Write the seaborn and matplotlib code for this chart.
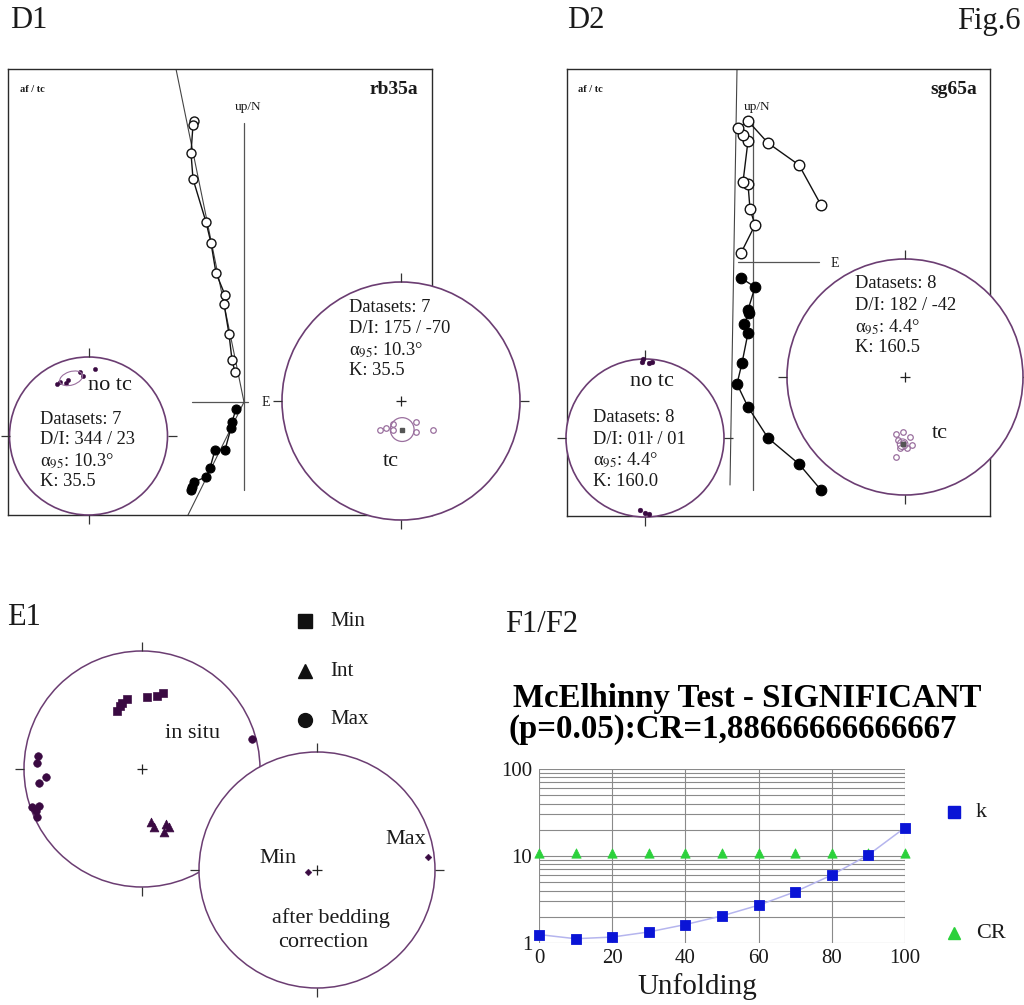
import numpy as np
import pandas as pd
import matplotlib
matplotlib.use("Agg")
import matplotlib.pyplot as plt
from matplotlib.patches import Circle, Ellipse
import seaborn as sns

sns.set_theme(style="white")
plt.rcParams['font.family'] = ['Liberation Serif', 'DejaVu Serif']
plt.rcParams['mathtext.fontset'] = 'stix'

# ---------------- data ----------------
# D1 (rb35a) Zijderveld diagram: horizontal (open) and vertical (filled) projections
D1_OPEN_E = [-50, -51, -53, -51, -38, -33, -28, -19, -20, -15, -12, -9]
D1_OPEN_N = [281, 277, 249, 223, 180, 159, 129, 107, 98, 68, 42, 30]
D1_FILL_E = [-8, -12, -13, -19, -29, -34, -38, -50, -52, -53]
D1_FILL_UP = [-7, -20, -26, -48, -48, -66, -75, -80, -85, -88]
D1_FIT_E = [[-68, 0], [0, -56]]
D1_FIT_N = [[333, 0], [0, -113]]

# D2 (sg65a) Zijderveld diagram
D2_OPEN_E = [-12, 2, -3, -5, -10, -5, -10, -15, -5, 15, 46, 68]
D2_OPEN_N = [9, 37, 53, 78, 80, 121, 127, 134, 141, 119, 97, 57]
D2_FILL_E = [-12, 2, -5, -4, -9, -5, -11, -16, -5, 15, 46, 68]
D2_FILL_UP = [-16, -25, -48, -51, -62, -71, -101, -122, -145, -176, -202, -228]
D2_FIT_E = [[-16, -23]]
D2_FIT_N = [[193, -223]]

# stereonet site directions (projected, unit circle)
D1_NOTC_X = [-0.40, -0.36, -0.28, -0.26, -0.11, -0.07, 0.08]
D1_NOTC_Y = [0.66, 0.68, 0.67, 0.71, 0.81, 0.76, 0.85]
D1_TC_X = [-0.18, -0.13, -0.07, -0.07, 0.13, 0.13, 0.27]
D1_TC_Y = [-0.24, -0.23, -0.19, -0.24, -0.18, -0.26, -0.24]
D2_NOTC_X = [-0.04, -0.03, 0.05, 0.09, -0.06, 0.00, 0.05]
D2_NOTC_Y = [0.96, 1.00, 0.95, 0.96, -0.91, -0.95, -0.96]
D2_TC_X = [-0.08, -0.02, 0.04, -0.06, -0.02, 0.06, -0.04, 0.02, -0.08]
D2_TC_Y = [-0.48, -0.47, -0.51, -0.53, -0.56, -0.58, -0.60, -0.60, -0.68]

D1_NOTC_TEXT = ["Datasets: 7", "D/I: 344 / 23", "α$_{95}$: 10.3°", "K: 35.5"]
D1_TC_TEXT = ["Datasets: 7", "D/I: 175 / -70", "α$_{95}$: 10.3°", "K: 35.5"]
D2_NOTC_TEXT = ["Datasets: 8", "D/I: 01ŀ / 01", "α$_{95}$: 4.4°", "K: 160.0"]
D2_TC_TEXT = ["Datasets: 8", "D/I: 182 / -42", "α$_{95}$: 4.4°", "K: 160.5"]

# E1 AMS principal axes
MIN_X = [-0.21, -0.19, -0.17, -0.13, 0.04, 0.13, 0.18]
MIN_Y = [0.49, 0.53, 0.56, 0.59, 0.61, 0.62, 0.64]
INT_X = [0.08, 0.10, 0.20, 0.23, 0.19]
INT_Y = [-0.45, -0.49, -0.47, -0.49, -0.53]
MAX_X = [-0.88, -0.89, -0.81, -0.87, -0.93, -0.87, -0.90, -0.89, 0.93]
MAX_Y = [0.11, 0.05, -0.07, -0.12, -0.32, -0.31, -0.36, -0.41, 0.25]
BC_LABELS = ["Min", "Max"]
BC_X = [-0.08, 0.94]
BC_Y = [-0.02, 0.11]

# F1/F2 McElhinny fold test
UNFOLDING = [0, 10, 20, 30, 40, 50, 60, 70, 80, 90, 100]
K_VALUES = [1.25, 1.12, 1.17, 1.34, 1.63, 2.05, 2.72, 3.88, 6.04, 10.3, 21.2]
CR_VALUES = [10.9] * 11

# ---------------- styling ----------------
W, H = 1024, 1005
PURPLE = '#3a0a42'
RING = '#6b3d72'
OPEN_PURPLE = '#9a6f9e'
TXT = '#1a1a1a'
BLUE = '#0a14d6'
GREEN = '#2bd13b'

fig = plt.figure(figsize=(W / 100, H / 100), dpi=100)


def px_axes(x0, y0, x1, y1, z=1):
    ax = fig.add_axes([x0 / W, 1 - y1 / H, (x1 - x0) / W, (y1 - y0) / H], zorder=z)
    ax.set_facecolor('none')
    return ax


def ptext(x, y, s, **kw):
    kw.setdefault('va', 'center')
    kw.setdefault('color', TXT)
    fig.text(x / W, 1 - y / H, s, **kw)


def zijderveld(box, origin, oe, on, fe, fu, fit_e, fit_n, vert, horiz, ms):
    x0, y0, x1, y1 = box
    ox, oy = origin
    ax = px_axes(x0, y0, x1, y1, z=1)
    ax.set_xlim(x0 - ox, x1 - ox)
    ax.set_ylim(oy - y1, oy - y0)
    ax.set_xticks([])
    ax.set_yticks([])
    for sp in ax.spines.values():
        sp.set_color('#2a2a2a')
        sp.set_linewidth(1.0)
    ax.plot([0, 0], vert, color='#555555', lw=0.9)
    ax.plot(horiz, [0, 0], color='#555555', lw=0.9)
    for fx, fy in zip(fit_e, fit_n):
        ax.plot(fx, fy, color='#444444', lw=0.8)
    sns.lineplot(x=oe, y=on, sort=False, estimator=None, color='#111111', lw=1.0, ax=ax)
    sns.lineplot(x=fe, y=fu, sort=False, estimator=None, color='#111111', lw=1.0, ax=ax)
    sns.scatterplot(x=oe, y=on, color='white', edgecolor='#111111', linewidth=1.0,
                    s=ms, ax=ax, zorder=4, legend=False)
    sns.scatterplot(x=fe, y=fu, color='#000000', edgecolor='#000000', linewidth=0.8,
                    s=ms, ax=ax, zorder=4, legend=False)
    return ax


def stereonet(cx, cy, r, z=3, lw=1.2, centre=True):
    pad = 1.14
    ax = px_axes(cx - r * pad, cy - r * pad, cx + r * pad, cy + r * pad, z)
    ax.set_xlim(-pad, pad)
    ax.set_ylim(-pad, pad)
    ax.axis('off')
    ax.add_patch(Circle((0, 0), 1, facecolor='white', edgecolor=RING, lw=lw, zorder=1))
    t = 1 + 9 / r
    for dx, dy in [(0, 1), (1, 0), (0, -1), (-1, 0)]:
        ax.plot([dx, dx * t], [dy, dy * t], color='#333333', lw=0.9, zorder=2,
                solid_capstyle='butt')
    if centre:
        ax.plot([0], [0], marker='+', color='#222222', ms=7, mew=0.9, zorder=2)
    return ax


# ---------------- D1 ----------------
ptext(10, 21, "D1", fontsize=22, ha='left')
zijderveld((8, 69, 432, 515), (244, 402), D1_OPEN_E, D1_OPEN_N, D1_FILL_E, D1_FILL_UP,
           D1_FIT_E, D1_FIT_N, [279, -88], [-52, 4], ms=42)
ptext(20, 90, "af / tc", fontsize=7.5, ha='left', weight='bold')
ptext(418, 89, "rb35a", fontsize=14, ha='right', weight='bold')
ptext(248, 107, "up/N", fontsize=9.5, ha='center')
ptext(262, 403, "E", fontsize=10, ha='left')

ax = stereonet(88.5, 436, 79, centre=False)
sns.scatterplot(x=D1_NOTC_X, y=D1_NOTC_Y, color=PURPLE, edgecolor=PURPLE, s=10,
                ax=ax, zorder=3, legend=False)
ax.add_patch(Ellipse((-0.22, 0.73), 0.30, 0.17, angle=18, fill=False,
                     edgecolor=OPEN_PURPLE, lw=0.8, zorder=3))
ptext(88, 386, "no tc", fontsize=16, ha='left')
for i, s in enumerate(D1_NOTC_TEXT):
    ptext(40, 419 + 21 * i, s, fontsize=13.3, ha='left')

ax = stereonet(401, 401, 119)
sns.scatterplot(x=D1_TC_X, y=D1_TC_Y, color='white', edgecolor=OPEN_PURPLE,
                linewidth=0.9, s=16, ax=ax, zorder=3, legend=False)
ax.add_patch(Circle((0.01, -0.24), 0.10, fill=False, edgecolor=OPEN_PURPLE, lw=0.9, zorder=3))
ax.plot([0.01], [-0.24], marker='s', color='#555555', ms=2.5, zorder=4)
ptext(383, 462, "tc", fontsize=16, ha='left')
for i, s in enumerate(D1_TC_TEXT):
    ptext(349, 307 + 21.3 * i, s, fontsize=13.3, ha='left')

# ---------------- D2 ----------------
ptext(567, 21, "D2", fontsize=22, ha='left')
ptext(1021, 21, "Fig.6", fontsize=22, ha='right')
zijderveld((567, 69, 990, 516), (753, 262), D2_OPEN_E, D2_OPEN_N, D2_FILL_E, D2_FILL_UP,
           D2_FIT_E, D2_FIT_N, [140, -228], [-15, 66], ms=58)
ptext(578, 90, "af / tc", fontsize=7.5, ha='left', weight='bold')
ptext(977, 89, "sg65a", fontsize=14, ha='right', weight='bold')
ptext(757, 107, "up/N", fontsize=9.5, ha='center')
ptext(831, 263, "E", fontsize=10, ha='left')

ax = stereonet(645, 438, 79, centre=False)
sns.scatterplot(x=D2_NOTC_X, y=D2_NOTC_Y, color=PURPLE, edgecolor=PURPLE, s=12,
                ax=ax, zorder=3, legend=False)
ptext(630, 381, "no tc", fontsize=16, ha='left')
for i, s in enumerate(D2_NOTC_TEXT):
    ptext(593, 418 + 21 * i, s, fontsize=13.3, ha='left')

ax = stereonet(905, 377, 118)
sns.scatterplot(x=D2_TC_X, y=D2_TC_Y, color='white', edgecolor=OPEN_PURPLE,
                linewidth=0.9, s=16, ax=ax, zorder=3, legend=False)
ax.add_patch(Circle((-0.02, -0.57), 0.045, fill=False, edgecolor=OPEN_PURPLE, lw=0.8, zorder=3))
ax.plot([-0.02], [-0.57], marker='s', color='#555555', ms=2.5, zorder=4)
ptext(932, 434, "tc", fontsize=16, ha='left')
for i, s in enumerate(D2_TC_TEXT):
    ptext(855, 284 + 21.3 * i, s, fontsize=13.3, ha='left')

# ---------------- E1 ----------------
ptext(7, 617, "E1", fontsize=22, ha='left')
ax = stereonet(142, 769, 118, z=2, lw=1.1)
sns.scatterplot(x=MIN_X, y=MIN_Y, marker='s', color=PURPLE, edgecolor=PURPLE, s=34,
                ax=ax, zorder=3, legend=False)
sns.scatterplot(x=INT_X, y=INT_Y, marker='^', color=PURPLE, edgecolor=PURPLE, s=40,
                ax=ax, zorder=3, legend=False)
sns.scatterplot(x=MAX_X, y=MAX_Y, marker='o', color=PURPLE, edgecolor=PURPLE, s=30,
                ax=ax, zorder=3, legend=False)
ptext(165, 733, "in situ", fontsize=16, ha='left')

ax = stereonet(317, 870, 118, z=3, lw=1.1)
sns.scatterplot(x=BC_X, y=BC_Y, marker='D', color=PURPLE, edgecolor=PURPLE, s=12,
                ax=ax, zorder=3, legend=False)
ptext(278, 858, BC_LABELS[0], fontsize=16, ha='center')
ptext(406, 840, BC_LABELS[1], fontsize=16, ha='center')
ptext(331, 918, "after bedding", fontsize=16, ha='center')
ptext(323, 942, "correction", fontsize=16, ha='center')

# legend for principal axes
leg = px_axes(0, 0, W, H, z=5)
leg.set_xlim(0, W)
leg.set_ylim(H, 0)
leg.axis('off')
for mk, y, lab in [('s', 621, "Min"), ('^', 671, "Int"), ('o', 720, "Max")]:
    leg.plot([305], [y], marker=mk, color='#111111', ms=10, ls='none')
    ptext(330, y, lab, fontsize=15, ha='left')

# ---------------- F1/F2 ----------------
ptext(505, 625, "F1/F2", fontsize=22, ha='left')
ptext(513, 698, "McElhinny Test - SIGNIFICANT", fontsize=23.7, ha='left', weight='bold',
      color='#000000')
ptext(509, 729, "(p=0.05):CR=1,88666666666667", fontsize=23.7, ha='left', weight='bold',
      color='#000000')

ax = px_axes(539, 769, 905, 943, z=1)
ax.set_yscale('log')
ax.set_xlim(0, 100)
ax.set_ylim(1, 100)
ax.set_xticks([0, 20, 40, 60, 80, 100])
ax.set_yticks([1, 10, 100])
ax.set_yticklabels(["1", "10", "100"])
minor = [v * d for d in (1, 10) for v in range(2, 10)]
ax.set_yticks(minor, minor=True)
ax.set_yticklabels([], minor=True)
ax.grid(True, which='both', axis='y', color='#8a8a8a', lw=0.8)
ax.grid(True, which='major', axis='x', color='#8a8a8a', lw=0.8)
for sp in ax.spines.values():
    sp.set_visible(False)
ax.tick_params(axis='both', which='both', length=0, labelsize=15, colors=TXT)
ax.tick_params(axis='y', pad=5)
ax.tick_params(axis='x', pad=4)
sns.lineplot(x=UNFOLDING, y=K_VALUES, color='#b5b5ee', lw=1.1, ax=ax)
sns.scatterplot(x=UNFOLDING, y=CR_VALUES, marker='^', color=GREEN, edgecolor=GREEN,
                s=45, ax=ax, zorder=4, legend=False)
sns.scatterplot(x=UNFOLDING, y=K_VALUES, marker='s', color=BLUE, edgecolor=BLUE,
                s=55, ax=ax, zorder=5, legend=False)
for c in ax.collections:
    c.set_clip_on(False)
ptext(697, 987, "Unfolding", fontsize=21, ha='center')

leg.plot([954], [812], marker='s', color=BLUE, ms=8, ls='none')
ptext(976, 812, "k", fontsize=16, ha='left')
leg.plot([954], [933], marker='^', color=GREEN, ms=8, ls='none')
ptext(976, 933, "CR", fontsize=16, ha='left')

fig.savefig("out.png", dpi=100, facecolor='white')
